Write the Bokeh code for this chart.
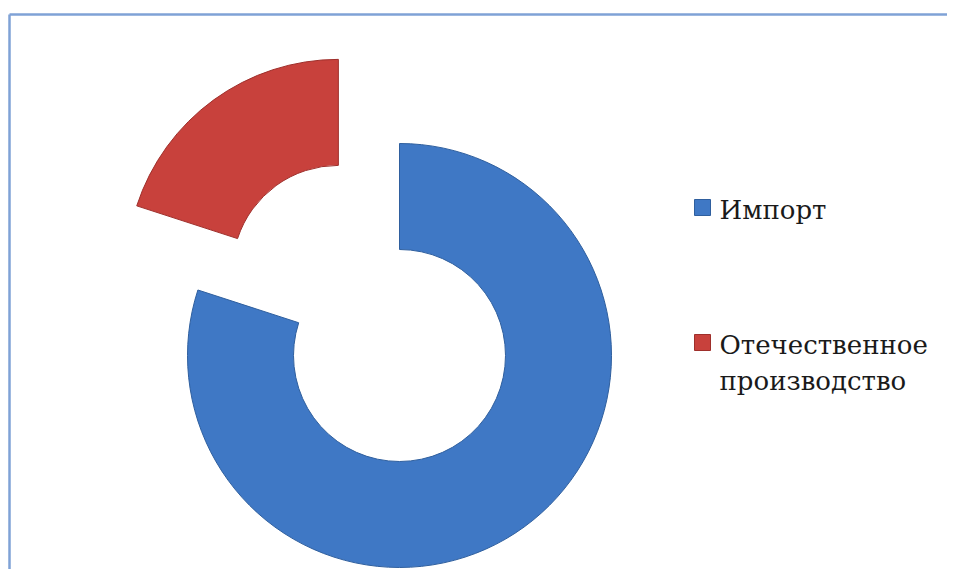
import math
from bokeh.plotting import figure
from bokeh.models import Range1d
from bokeh.core.properties import value
from bokeh.embed import file_html
from bokeh.resources import INLINE

# Data
categories = ["Импорт", "Отечественное производство"]
legend_lines = [["Импорт"], ["Отечественное", "производство"]]
shares = [80, 20]
colors = ["#3f78c5", "#c8413c"]
edge_colors = ["#2f5f9e", "#9e2f2b"]
explode = [0, 104]

W, H = 947, 569
p = figure(width=W, height=H, output_backend="svg", toolbar_location=None,
           x_range=Range1d(0, W), y_range=Range1d(0, H), min_border=0)
p.axis.visible = False
p.grid.visible = False
p.outline_line_color = None
p.background_fill_color = "white"

def sy(y):  # picture y -> data y
    return H - y

def sx(x):
    return x

cx, cy = sx(399), sy(355)
R_out, R_in = 212, 106

total = sum(shares)
start_cw = 0.0
for val, col, ec, ex in zip(shares, colors, edge_colors, explode):
    end_cw = start_cw + val / total * 360.0
    mid_cw = math.radians((start_cw + end_cw) / 2)
    ox = cx + ex * math.sin(mid_cw)
    oy = cy + ex * math.cos(mid_cw)
    sa = math.radians(90 - start_cw)
    ea = math.radians(90 - end_cw)
    p.annular_wedge(x=[ox], y=[oy], inner_radius=R_in, outer_radius=R_out,
                    start_angle=sa, end_angle=ea, direction="clock",
                    fill_color=col, line_color=ec, line_width=1)
    start_cw = end_cw

# Border (top and left)
bc = "#7fa2d6"
p.line(x=[sx(9), sx(963)], y=[sy(14), sy(14)], line_color=bc, line_width=2.5)
p.line(x=[sx(9), sx(9)], y=[sy(14), sy(585)], line_color=bc, line_width=2.5)

# Legend
leg_y = [207, 342]
for lines, col, ec, ly in zip(legend_lines, colors, edge_colors, leg_y):
    p.rect(x=[sx(702)], y=[sy(ly)], width=16, height=16, fill_color=col,
           line_color=ec, line_width=1)
    for i, t in enumerate(lines):
        p.text(x=[sx(719)], y=[sy(ly + 2 + i * 36)], text=[t],
               text_font=value("DejaVu Serif"),
               text_font_size="26px",
               text_baseline="middle", text_align="left", text_color="#1a1a1a")

open("out.html", "w").write(file_html(p, INLINE))
